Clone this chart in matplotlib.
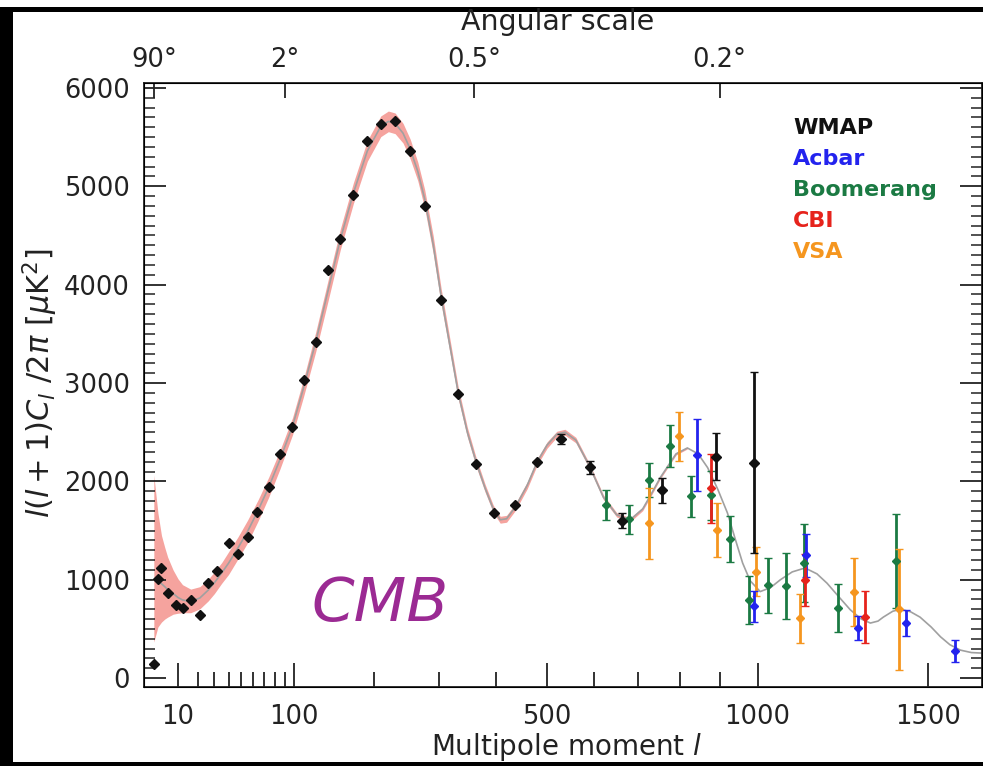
import numpy as np
import matplotlib
matplotlib.use("Agg")
import matplotlib.pyplot as plt
from matplotlib.patches import Rectangle
from matplotlib.ticker import FixedLocator, MultipleLocator

# WMAP binned points (multipole l, l(l+1)Cl/2pi in uK^2, error)
wmap_l = [2, 3, 4, 6, 9, 12, 16, 21, 26, 32, 40, 47, 55, 63, 74, 85, 98, 110,
          124, 139, 154, 171, 190, 209, 230, 253, 276, 303, 332, 364, 397, 437,
          480, 529, 590, 661, 755, 891, 989]
wmap_d = [140, 1010, 1120, 870, 740, 710, 790, 640, 970, 1090, 1370, 1260, 1430,
          1690, 1940, 2280, 2550, 3030, 3420, 4150, 4465, 4910, 5460, 5635, 5665,
          5360, 4800, 3845, 2890, 2175, 1680, 1760, 2195, 2430, 2145, 1600, 1910,
          2250, 2190]
wmap_err = [0] * 33 + [50, 65, 75, 125, 240, 920]

acbar_l = [843, 989, 1135, 1284, 1430, 1586]
acbar_d = [2270, 730, 1250, 510, 560, 275]
acbar_err = [365, 160, 220, 120, 135, 110]

boom_l = [626, 677, 726, 776, 827, 878, 927, 978, 1029, 1079, 1127, 1227, 1401]
boom_d = [1760, 1615, 2015, 2360, 1850, 1860, 1415, 795, 945, 935, 1170, 710, 1190]
boom_err = [150, 150, 175, 210, 210, 250, 235, 240, 280, 335, 395, 245, 480]

cbi_l = [878, 1130, 1305]
cbi_d = [1930, 1000, 620]
cbi_err = [350, 265, 265]

vsa_l = [726, 798, 893, 996, 1118, 1272, 1410]
vsa_d = [1575, 2460, 1505, 1080, 610, 875, 700]
vsa_err = [360, 250, 275, 250, 250, 345, 615]

# best-fit model curve
theory_l = [2, 3, 4, 5, 6, 8, 10, 12, 16, 21, 26, 30, 35, 40, 47, 55, 64, 74, 85,
            98, 110, 124, 139, 154, 171, 190, 209, 220, 230, 242, 253, 265, 276,
            290, 303, 318, 332, 348, 364, 380, 395, 408, 420, 437, 460, 480, 500,
            520, 537, 560, 590, 620, 650, 681, 710, 730, 752, 790, 818, 845, 869,
            895, 920, 940, 960, 980, 1007, 1035, 1062, 1095, 1131, 1165, 1194,
            1230, 1262, 1295, 1322, 1345, 1361, 1390, 1414, 1445, 1475, 1510,
            1540, 1570, 1604, 1640, 1679]
theory_d = [1000, 985, 960, 930, 900, 860, 820, 795, 780, 815, 895, 970, 1070,
            1170, 1320, 1490, 1700, 1940, 2220, 2560, 2950, 3420, 3950, 4460,
            4930, 5360, 5610, 5660, 5640, 5540, 5380, 5150, 4870, 4400, 3880,
            3370, 2900, 2500, 2190, 1930, 1720, 1610, 1620, 1740, 1960, 2200,
            2370, 2480, 2500, 2420, 2150, 1840, 1660, 1610, 1720, 1870, 2040,
            2280, 2340, 2280, 2140, 1920, 1680, 1420, 1170, 990, 880, 920, 1000,
            1080, 1120, 1060, 965, 820, 695, 600, 560, 580, 620, 680, 700, 675,
            620, 520, 420, 340, 285, 260, 254]

# cosmic variance band: offsets above / below the curve (first nodes only)
band_up = [1065, 695, 490, 400, 330, 240, 190, 155, 125, 115, 110, 110, 105, 115,
           112, 115, 108, 102, 95, 87, 90, 100, 105, 105, 105, 105, 105, 105, 105,
           100, 100, 95, 95, 90, 80, 70, 60, 50, 45, 40, 38, 35, 35, 35, 35, 33,
           32, 30, 30, 28, 26, 24, 22, 20, 18, 16, 14, 12, 10]
band_dn = [634, 465, 390, 330, 280, 210, 160, 130, 115, 110, 110, 110, 105, 115,
           112, 115, 108, 102, 95, 87, 90, 100, 105, 105, 105, 105, 105, 105, 105,
           100, 100, 95, 95, 90, 80, 70, 60, 50, 45, 40, 38, 35, 35, 35, 35, 33,
           32, 30, 30, 28, 26, 24, 22, 20, 18, 16, 14, 12, 10]

top_l = [2, 90, 360, 900]
top_labels = ["90°", "2°", "0.5°", "0.2°"]
bottom_major = [10, 100, 500, 1000, 1500]
bottom_minor = [20, 30, 40, 50, 60, 70, 80, 90, 200, 300, 400, 600, 700, 800, 900]

legend_names = ["WMAP", "Acbar", "Boomerang", "CBI", "VSA"]
legend_colors = ["#111111", "#2323ee", "#1b7a43", "#e6231c", "#f5961f"]


def fwd(x):
    return np.power(np.clip(x, 0, None), 0.6)


def inv(x):
    return np.power(np.clip(x, 0, None), 1 / 0.6)


W, H = 983, 766
fig = plt.figure(figsize=(W / 100, H / 100), dpi=100)
ax = fig.add_axes([144 / W, (H - 687) / H, (982 - 144) / W, (687 - 83) / H])
ax.set_xscale("function", functions=(fwd, inv))
xlim = (0.33, 1675)
ax.set_xlim(*xlim)
ax.set_ylim(-90, 6050)

n = len(band_up)
bl = np.array(theory_l[:n])
bd = np.array(theory_d[:n])
ax.fill_between(bl, bd - np.array(band_dn), bd + np.array(band_up),
                color="#f5a39e", lw=0, zorder=1)
ax.plot(theory_l, theory_d, color="#a0a0a0", lw=1.2, zorder=2)

ax.errorbar(wmap_l, wmap_d, yerr=wmap_err, fmt="D", ms=5, color=legend_colors[0],
            ecolor=legend_colors[0], elinewidth=2, capsize=3, zorder=5)
for xs, ys, es, c in [(boom_l, boom_d, boom_err, legend_colors[2]),
                      (vsa_l, vsa_d, vsa_err, legend_colors[4]),
                      (acbar_l, acbar_d, acbar_err, legend_colors[1]),
                      (cbi_l, cbi_d, cbi_err, legend_colors[3])]:
    ax.errorbar(xs, ys, yerr=es, fmt="D", ms=4.5, color=c, ecolor=c,
                elinewidth=2, capsize=3, zorder=4)

ax.xaxis.set_major_locator(FixedLocator(bottom_major))
ax.xaxis.set_minor_locator(FixedLocator(bottom_minor))
ax.set_xticklabels([str(v) for v in bottom_major])
ax.xaxis.set_minor_formatter(plt.NullFormatter())
ax.yaxis.set_major_locator(MultipleLocator(1000))
ax.yaxis.set_minor_locator(MultipleLocator(100))
ax.tick_params(axis="both", which="both", direction="in", colors="#222222",
               labelsize=18.5, top=False, right=True)
ax.tick_params(axis="x", which="major", length=17, width=1.3, pad=12)
ax.tick_params(axis="x", which="minor", length=11, width=1.3)
ax.tick_params(axis="y", which="major", length=16, width=1.3, pad=10)
ax.tick_params(axis="y", which="minor", length=8, width=1.1)
for s in ax.spines.values():
    s.set_linewidth(1.3)
    s.set_color("#222222")

ax2 = ax.twiny()
ax2.set_xscale("function", functions=(fwd, inv))
ax2.set_xlim(*xlim)
ax2.xaxis.set_major_locator(FixedLocator(top_l))
ax2.set_xticklabels(top_labels)
ax2.xaxis.set_minor_locator(plt.NullLocator())
ax2.tick_params(axis="x", direction="in", length=11, width=1.3, labelsize=18.5,
                pad=7, colors="#222222")

fig.text(558 / W, 1 - 22 / H, "Angular scale", fontsize=20.5, ha="center",
         va="center", color="#222222")
fig.text(567 / W, 1 - 747 / H, r"Multipole moment $l$", fontsize=20,
         ha="center", va="center", color="#222222")
fig.text(40 / W, 1 - 383 / H, r"$l(l+1)C_l\ /2\pi\ [\mu\mathrm{K}^2]$",
         fontsize=22, rotation=90, ha="center", va="center", color="#222222")

for i, (name, c) in enumerate(zip(legend_names, legend_colors)):
    fig.text(793 / W, 1 - (128 + 31 * i) / H, name, fontsize=16, color=c,
             ha="left", va="center", fontweight="bold")

fig.text(380 / W, 1 - 605 / H, "CMB", fontsize=44, style="italic",
         color="#9b2a93", ha="center", va="center")

# thick black frame of the original picture
for x0, y0, w, h in [(0, 7, W, 5), (0, 7, 13, H - 7), (0, H - 4, W, 4)]:
    fig.add_artist(Rectangle((x0 / W, 1 - (y0 + h) / H), w / W, h / H,
                             transform=fig.transFigure, color="black", lw=0))

fig.savefig("out.png", dpi=100)
